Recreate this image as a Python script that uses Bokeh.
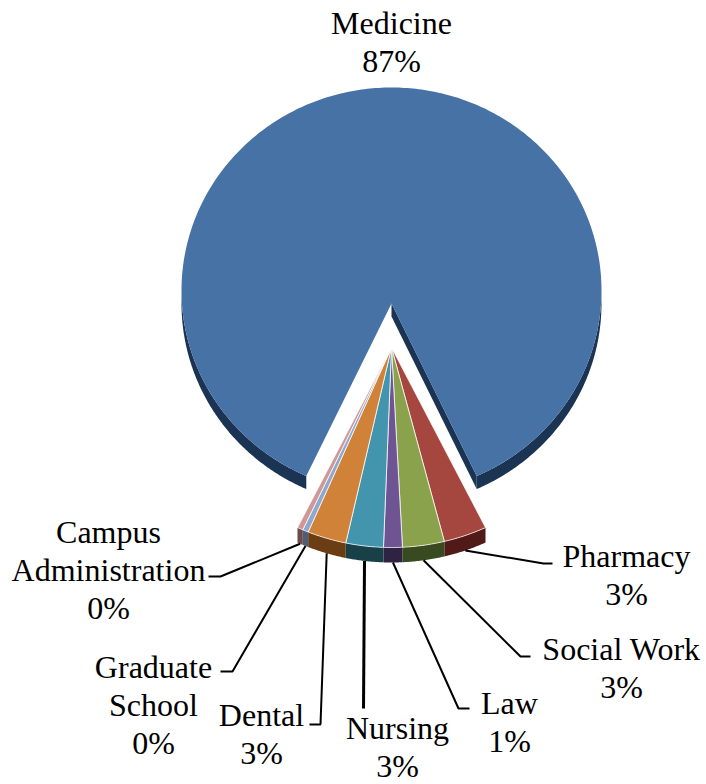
import numpy as np
from bokeh.plotting import figure
from bokeh.embed import file_html
from bokeh.resources import INLINE
from bokeh.core.properties import value

# ---- data ----
categories = ["Medicine", "Pharmacy", "Social Work", "Law", "Nursing", "Dental", "Graduate School", "Campus Administration"]
shares = [86.7, 3.0, 2.9, 1.3, 2.6, 2.7, 0.4, 0.4]
top_colors = ["#4672A6", "#A5473F", "#8AA24C", "#6F5493", "#4295AC", "#D18239", "#8FA9CE", "#CF9896"]
rim_colors = ["#1B3454", "#4F1A17", "#384A1F", "#2E2343", "#174048", "#6B3D14", "#4E5E78", "#6A4A4A"]

# ---- layout (page pixel space) ----
label_lines = [["Medicine"], ["Pharmacy"], ["Social Work"], ["Law"], ["Nursing"], ["Dental"], ["Graduate", "School"], ["Campus", "Administration"]]
label_x = [391, 626, 621, 509, 397, 261, 153, 108]
label_y = [22, 555, 648, 702, 727, 714, 666, 531]   # first line centre
elbows = [None, [(543, 563), (552, 563)], [(520, 656), (530, 656)], [(458, 708), (469, 708)],
          [(363, 708)], [(320, 724), (309, 724)], [(232, 671), (220, 671)], [(220, 576), (208, 576)]]
line_widths = [0, 2, 2, 2, 3, 2, 2, 2]
LINE_GAP = 38

W, H = 706, 784
p = figure(width=W, height=H, x_range=(0, W), y_range=(H, 0), toolbar_location=None,
           output_backend="svg", min_border=0, outline_line_color=None)
p.axis.visible = False
p.grid.visible = False

def pts(cx, cy, rx, ry, t0, t1, n=120):
    t = np.radians(np.linspace(t0, t1, n))
    return cx + rx * np.sin(t), cy + ry * np.cos(t)

# Medicine: exploded upward, true 360 degree sweep
M_C = (391, 290); M_RX, M_RY = 210, 203; M_APEX = (391, 303); M_DEPTH = 13
sweep = shares[0] * 3.6
m_start = (360 - sweep) / 2
m_end = m_start + sweep
ax, ay = pts(*M_C, M_RX, M_RY, m_start, m_end, 400)
# rim bands (front half only)
for a, b in [(m_start, 90), (270, m_end)]:
    bx, by = pts(*M_C, M_RX, M_RY, a, b)
    p.patch(np.r_[bx, bx[::-1]], np.r_[by, by[::-1] + M_DEPTH], fill_color=rim_colors[0], line_color=None)
# cut wall on the right side of the gap
p.patch([M_APEX[0], ax[0], ax[0], M_APEX[0]],
        [M_APEX[1], ay[0], ay[0] + M_DEPTH, M_APEX[1] + M_DEPTH], fill_color=rim_colors[0], line_color=None)
p.patch(np.r_[M_APEX[0], ax], np.r_[M_APEX[1], ay], fill_color=top_colors[0], line_color=None)

# Small slices: fanned, perspective stretched
S_C = (391, 347); S_RX, S_RY = 216, 200; S_DEPTH = 15
deg_per_unit = 51.6 / sum(shares[1:])
mid_angle = [None]
t = 25.8
for i in range(1, len(shares)):
    t1 = t - shares[i] * deg_per_unit
    mid_angle.append((t + t1) / 2)
    x, y = pts(*S_C, S_RX, S_RY, t, t1, 30)
    p.patch(np.r_[x, x[::-1]], np.r_[y, y[::-1] + S_DEPTH], fill_color=rim_colors[i], line_color=None)
    p.patch(np.r_[S_C[0], x], np.r_[S_C[1], y], fill_color=top_colors[i], line_color="white", line_width=1, line_alpha=0.75)
    t = t1

# Leader lines and labels
font = value("Liberation Serif")
for i in range(len(categories)):
    lines = list(label_lines[i]) + [f"{round(shares[i])}%"]
    ys = [label_y[i] + k * LINE_GAP for k in range(len(lines))]
    p.text([label_x[i]] * len(lines), ys, text=lines, text_font=font, text_font_size="32px",
           text_align="center", text_baseline="middle", text_color="#000000")
    if elbows[i]:
        sx, sy = pts(*S_C, S_RX, S_RY, mid_angle[i], mid_angle[i], 1)
        lx = [sx[0]] + [q[0] for q in elbows[i]]
        ly = [sy[0] + S_DEPTH] + [q[1] for q in elbows[i]]
        p.line(lx, ly, line_color="#000000", line_width=line_widths[i])

open("out.html", "w").write(file_html(p, INLINE))
